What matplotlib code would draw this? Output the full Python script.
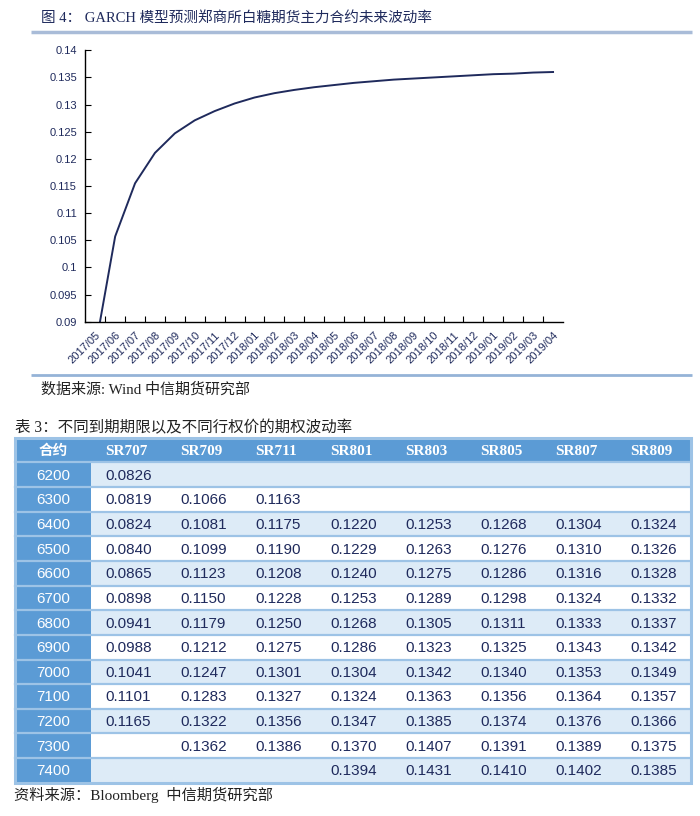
import numpy as np
import matplotlib.pyplot as plt
from matplotlib.patches import Rectangle

# chart data
months = ['2017/05', '2017/06', '2017/07', '2017/08', '2017/09', '2017/10', '2017/11', '2017/12',
          '2018/01', '2018/02', '2018/03', '2018/04', '2018/05', '2018/06', '2018/07', '2018/08',
          '2018/09', '2018/10', '2018/11', '2018/12', '2019/01', '2019/02', '2019/03', '2019/04']
garch_vol = [0.0851, 0.1057, 0.1155, 0.1211, 0.1247, 0.1271, 0.1288, 0.1302,
             0.1313, 0.1321, 0.1327, 0.1332, 0.1336, 0.1340, 0.1343, 0.1346,
             0.1348, 0.1350, 0.1352, 0.1354, 0.1356, 0.1357, 0.1359, 0.1360]
yticks = [0.09, 0.095, 0.1, 0.105, 0.11, 0.115, 0.12, 0.125, 0.13, 0.135, 0.14]
ytick_labels = ['0.09', '0.095', '0.1', '0.105', '0.11', '0.115', '0.12', '0.125', '0.13', '0.135', '0.14']

# table data
contracts = ['SR707', 'SR709', 'SR711', 'SR801', 'SR803', 'SR805', 'SR807', 'SR809']
strikes = ['6200', '6300', '6400', '6500', '6600', '6700', '6800', '6900', '7000', '7100', '7200', '7300', '7400']
vols = [
    ['0.0826', '', '', '', '', '', '', ''],
    ['0.0819', '0.1066', '0.1163', '', '', '', '', ''],
    ['0.0824', '0.1081', '0.1175', '0.1220', '0.1253', '0.1268', '0.1304', '0.1324'],
    ['0.0840', '0.1099', '0.1190', '0.1229', '0.1263', '0.1276', '0.1310', '0.1326'],
    ['0.0865', '0.1123', '0.1208', '0.1240', '0.1275', '0.1286', '0.1316', '0.1328'],
    ['0.0898', '0.1150', '0.1228', '0.1253', '0.1289', '0.1298', '0.1324', '0.1332'],
    ['0.0941', '0.1179', '0.1250', '0.1268', '0.1305', '0.1311', '0.1333', '0.1337'],
    ['0.0988', '0.1212', '0.1275', '0.1286', '0.1323', '0.1325', '0.1343', '0.1342'],
    ['0.1041', '0.1247', '0.1301', '0.1304', '0.1342', '0.1340', '0.1353', '0.1349'],
    ['0.1101', '0.1283', '0.1327', '0.1324', '0.1363', '0.1356', '0.1364', '0.1357'],
    ['0.1165', '0.1322', '0.1356', '0.1347', '0.1385', '0.1374', '0.1376', '0.1366'],
    ['', '0.1362', '0.1386', '0.1370', '0.1407', '0.1391', '0.1389', '0.1375'],
    ['', '', '', '0.1394', '0.1431', '0.1410', '0.1402', '0.1385'],
]

W, H = 700, 816
serif_cjk = ['Liberation Serif', 'Noto Sans CJK SC']
navy = '#1f2a5c'
blue = '#5b9bd5'
light = '#ddebf7'
border = '#9dc3e6'

fig = plt.figure(figsize=(W / 100, H / 100), dpi=100)

# overlay in pixel coords for titles, rules and the table
bg = fig.add_axes([0, 0, 1, 1])
bg.set_xlim(0, W)
bg.set_ylim(H, 0)
bg.axis('off')

bg.text(41, 18, '图 4： GARCH 模型预测郑商所白糖期货主力合约未来波动率', family=serif_cjk,
        fontsize=10.5, color=navy, va='center', ha='left')
bg.plot([31, 692], [32, 32], color='#a9bcd8', lw=2.5, solid_capstyle='butt')
bg.plot([31, 692], [375, 375], color='#95b3d7', lw=2, solid_capstyle='butt')
bg.text(41, 389, '数据来源: Wind 中信期货研究部', family=serif_cjk, fontsize=10.8, color='#222222',
        va='center', ha='left')
bg.text(15, 428, '表 3：不同到期期限以及不同行权价的期权波动率', family=serif_cjk, fontsize=11.2,
        color='#222222', va='center', ha='left')
bg.text(14, 795, '资料来源：Bloomberg  中信期货研究部', family=serif_cjk, fontsize=11,
        color='#222222', va='center', ha='left')

# table
x0, x1 = 15, 691
first_w = 76
col_w = (x1 - x0 - first_w) / len(contracts)
y_head, head_h = 438.3, 24.0
row_h = 24.65
y_rows = y_head + head_h

bg.add_patch(Rectangle((x0, y_head), x1 - x0, head_h, facecolor=blue, edgecolor='none'))
bg.text(x0 + first_w / 2, y_head + head_h / 2, '合约', family='Noto Sans CJK SC', weight='bold',
        fontsize=10.5, color='white', ha='center', va='center')
for j, name in enumerate(contracts):
    bg.text(x0 + first_w + j * col_w + 14, y_head + head_h / 2 + 1, name, family='Liberation Serif',
            weight='bold', fontsize=11, color='white', ha='left', va='center')

for i, strike in enumerate(strikes):
    top = y_rows + i * row_h
    face = light if i % 2 == 0 else 'white'
    bg.add_patch(Rectangle((x0 + first_w, top), x1 - x0 - first_w, row_h, facecolor=face, edgecolor='none'))
    bg.add_patch(Rectangle((x0, top), first_w, row_h, facecolor=blue, edgecolor='none'))
    bg.text(x0 + first_w / 2, top + row_h / 2 + 1, strike, family='Liberation Sans', fontsize=11,
            color='white', ha='center', va='center')
    for j, v in enumerate(vols[i]):
        if v:
            bg.text(x0 + first_w + j * col_w + 14, top + row_h / 2 + 1, v, family='Liberation Sans',
                    fontsize=11, color=navy, ha='left', va='center')
    bg.plot([x0, x1], [top, top], color=border, lw=1.6)

y_end = y_rows + len(strikes) * row_h
bg.add_patch(Rectangle((x0, y_head), x1 - x0, y_end - y_head, facecolor='none', edgecolor=border, lw=2.2))

# line chart
ax = fig.add_axes([85.3 / W, 1 - 321.7 / H, (563 - 85.3) / W, (321.7 - 50.3) / H])
xs = np.arange(len(months))
ax.plot(xs, garch_vol, color=navy, lw=1.4)
ax.set_xlim(-0.5, len(months) - 0.5)
ax.set_ylim(yticks[0], yticks[-1])
ax.set_yticks(yticks)
ax.set_yticklabels(ytick_labels, family='Liberation Sans', fontsize=8, color=navy)
ax.set_xticks(xs)
ax.set_xticklabels(months, rotation=45, ha='right', rotation_mode='anchor', family='Liberation Sans',
                   fontsize=8, color=navy)
ax.set_xticks(xs[:-1] + 0.5, minor=True)
ax.tick_params(axis='x', which='major', length=0, pad=6)
ax.tick_params(axis='x', which='minor', direction='in', length=4, width=0.8)
ax.tick_params(axis='y', direction='in', length=4, width=0.8, pad=6)
for s in ['top', 'right']:
    ax.spines[s].set_visible(False)
for s in ['left', 'bottom']:
    ax.spines[s].set_linewidth(1)
ax.patch.set_alpha(0)

plt.savefig('out.png', dpi=100)
